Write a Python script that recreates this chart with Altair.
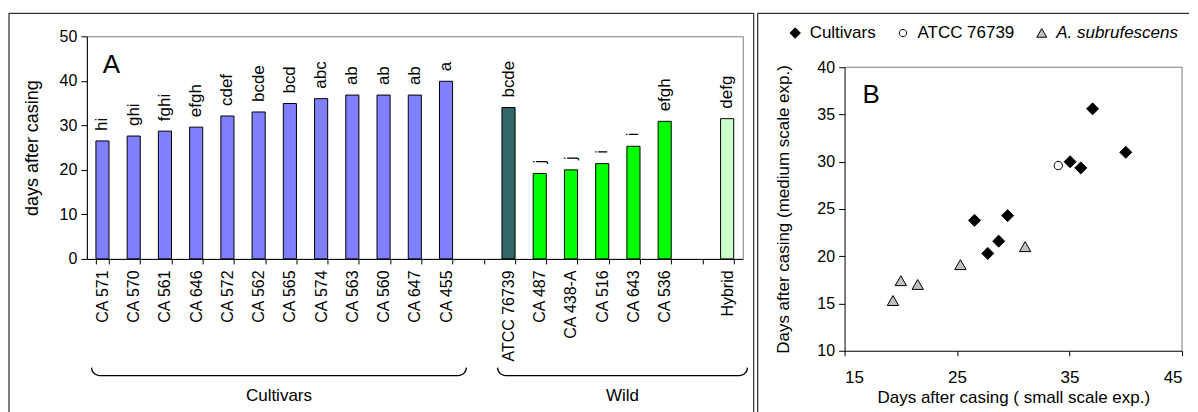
import altair as alt
import pandas as pd
import numpy as np

FONT = "Liberation Sans"

# ---------------- Panel A data ----------------
strains = ["CA 571", "CA 570", "CA 561", "CA 646", "CA 572", "CA 562", "CA 565", "CA 574",
           "CA 563", "CA 560", "CA 647", "CA 455",
           "ATCC 76739", "CA 487", "CA 438-A", "CA 516", "CA 643", "CA 536", "Hybrid"]
days = [26.5, 27.6, 28.7, 29.6, 32.1, 33.0, 34.9, 36.0, 36.8, 36.8, 36.8, 39.9,
        34.0, 19.2, 20.0, 21.4, 25.3, 30.9, 31.5]
letters = ["hi", "ghi", "fghi", "efgh", "cdef", "bcde", "bcd", "abc", "ab", "ab", "ab", "a",
           "bcde", "j", "j", "i", "i", "efgh", "defg"]
groups = ["Cultivar"] * 12 + ["ATCC"] + ["Wild"] * 5 + ["Hybrid"]
order = strains[:12] + [" "] + strains[12:18] + ["  "] + strains[18:]

group_names = ["Cultivar", "ATCC", "Wild", "Hybrid"]
group_colors = ["#8080FF", "#336666", "#00FF00", "#CCFFCC"]

brace_names = ["Cultivars", "Wild"]
brace_first = ["CA 571", "ATCC 76739"]
brace_last = ["CA 455", "Hybrid"]

# ---------------- Panel B data ----------------
cult_small = [26.55, 27.73, 28.7, 29.5, 35.05, 36.0, 37.05, 40.0]
cult_medium = [23.8, 20.3, 21.6, 24.3, 30.0, 29.35, 35.6, 31.0]
atcc_small = [34.0]
atcc_medium = [29.6]
wild_small = [19.3, 20.0, 21.5, 25.3, 31.05]
wild_medium = [15.3, 17.4, 17.0, 19.1, 21.0]
legend_names = ["Cultivars", "ATCC 76739", "A. subrufescens"]

# ================= Panel A =================
dfa = pd.DataFrame({"strain": strains, "days": days, "letter": letters, "kind": groups})
one = pd.DataFrame({"k": [0]})

xA = alt.X("strain:N",
           scale=alt.Scale(domain=order, paddingInner=0.58, paddingOuter=0.29),
           axis=alt.Axis(title=None, labelAngle=-90, tickBand="extent", tickSize=5,
                         labelPadding=6, labelFontSize=16, labelFont=FONT, labelColor="black",
                         domainColor="black", tickColor="black", zindex=1))
yA = alt.Y("days:Q", scale=alt.Scale(domain=[0, 50], nice=False),
           axis=alt.Axis(values=[0, 10, 20, 30, 40, 50], title="days after casing", grid=False,
                         tickSize=6, labelPadding=4, labelFontSize=16, labelFont=FONT,
                         labelColor="black", titleFont=FONT, titleFontSize=18,
                         titleFontWeight="normal", titleColor="black", titlePadding=18,
                         domainColor="black", tickColor="black", zindex=1))

bars = alt.Chart(dfa).mark_bar(stroke="black", strokeWidth=1).encode(
    x=xA, y=yA,
    fill=alt.Fill("kind:N", scale=alt.Scale(domain=group_names, range=group_colors), legend=None))

labels = alt.Chart(dfa).mark_text(angle=270, align="left", baseline="middle", dx=10,
                                  fontSize=17, font=FONT, color="black").encode(
    x=xA, y=yA, text="letter:N")

letterA = alt.Chart(one).mark_text(text="A", fontSize=26, font=FONT, align="left",
                                   baseline="alphabetic", color="black").encode(
    x=alt.value(16), y=alt.value(37))

bA_left = alt.Chart(one).mark_rule(color="black", strokeWidth=1).encode(
    x=alt.value(-78), y=alt.value(-23), y2=alt.value(380))
bA_top = alt.Chart(one).mark_rule(color="black", strokeWidth=1).encode(
    x=alt.value(-78), x2=alt.value(668), y=alt.value(-23))
bA_right = alt.Chart(one).mark_rule(color="black", strokeWidth=1).encode(
    x=alt.value(668), y=alt.value(-23), y2=alt.value(380))

main = alt.layer(bars, labels, letterA, bA_left, bA_top, bA_right)

# braces under the axis (geometry computed from group extents)
y_top, ry, rx = -24.4, 1.8, 0.27
rows = []
mids = []
for name, f, l in zip(brace_names, brace_first, brace_last):
    s = order.index(f) + 0.15
    e = order.index(l) + 1.15
    k = 0
    for th in np.linspace(np.pi, 1.5 * np.pi, 9):
        rows.append({"brace": name, "k": k, "bx": s + rx + rx * np.cos(th), "by": y_top + ry * np.sin(th)})
        k += 1
    for th in np.linspace(1.5 * np.pi, 2 * np.pi, 9):
        rows.append({"brace": name, "k": k, "bx": e - rx + rx * np.cos(th), "by": y_top + ry * np.sin(th)})
        k += 1
    mids.append((s + e) / 2)
dfbrace = pd.DataFrame(rows)
dfbt = pd.DataFrame({"brace": brace_names, "mid": mids, "ly": [-30.8] * len(brace_names)})

bxs = alt.Scale(domain=[0, len(order)], nice=False, zero=False)
bys = alt.Scale(domain=[0, 50], nice=False)
brace_line = alt.Chart(dfbrace).mark_line(color="black", strokeWidth=1.3).encode(
    x=alt.X("bx:Q", scale=bxs, axis=None),
    y=alt.Y("by:Q", scale=bys, axis=None),
    detail="brace:N", order="k:Q")
brace_text = alt.Chart(dfbt).mark_text(fontSize=17, font=FONT, color="black", baseline="middle").encode(
    x=alt.X("mid:Q", scale=bxs, axis=None),
    y=alt.Y("ly:Q", scale=bys, axis=None),
    text="brace:N")
braces = alt.layer(brace_line, brace_text)

panelA = alt.layer(main, braces).resolve_scale(x="independent", y="independent").properties(
    width=657, height=223, view=alt.ViewBackground(stroke="#808080"))

# ================= Panel B =================
dfb = pd.DataFrame({
    "series": ["Cultivars"] * len(cult_small) + ["ATCC 76739"] * len(atcc_small)
              + ["A. subrufescens"] * len(wild_small),
    "small": cult_small + atcc_small + wild_small,
    "medium": cult_medium + atcc_medium + wild_medium,
})

xB = alt.X("small:Q", scale=alt.Scale(domain=[15, 45], nice=False, zero=False),
           axis=alt.Axis(values=[15, 25, 35, 45], title="Days after casing ( small scale exp.)",
                         grid=False, tickSize=5, labelPadding=14, labelFontSize=17, labelFont=FONT,
                         labelColor="black", titleFont=FONT, titleFontSize=17,
                         titleFontWeight="normal", titleColor="black", titlePadding=4,
                         domainColor="black", tickColor="black", zindex=1))
yB = alt.Y("medium:Q", scale=alt.Scale(domain=[10, 40], range=[315, 31], nice=False, zero=False),
           axis=alt.Axis(values=[10, 15, 20, 25, 30, 35, 40],
                         title="Days after casing (medium scale exp.)", grid=False, tickSize=6,
                         labelPadding=4, labelFontSize=16, labelFont=FONT, labelColor="black",
                         titleFont=FONT, titleFontSize=17, titleFontWeight="normal",
                         titleColor="black", titlePadding=24, domainColor="black",
                         tickColor="black", zindex=1))

leg = alt.Legend(title=None, orient="none", legendX=-58, legendY=-12, direction="horizontal",
                 labelFontSize=17, labelFont=FONT, labelColor="black", labelLimit=300,
                 symbolStrokeWidth=1, symbolSize=110, columnPadding=18,
                 labelOffset=6, padding=0,
                 labelFontStyle={"expr": "datum.label == 'A. subrufescens' ? 'italic' : 'normal'"})

circle_path = "M0.7,0A0.7,0.7 0 1,1 -0.7,0A0.7,0.7 0 1,1 0.7,0Z"
triangle_path = "M0,-0.85L0.95,0.8L-0.95,0.8Z"

points = alt.Chart(dfb).mark_point(filled=True, strokeWidth=1, opacity=1, size=144).encode(
    x=xB, y=yB,
    shape=alt.Shape("series:N", scale=alt.Scale(domain=legend_names,
                                                range=["diamond", circle_path, triangle_path]), legend=leg),
    fill=alt.Fill("series:N", scale=alt.Scale(domain=legend_names,
                                              range=["black", "white", "#C0C0C0"]), legend=leg),
    stroke=alt.Stroke("series:N", scale=alt.Scale(domain=legend_names,
                                                  range=["black", "black", "black"]), legend=leg),
)

frame_top = alt.Chart(one).mark_rule(color="#808080", strokeWidth=1).encode(
    x=alt.datum(15), x2=alt.datum(45), y=alt.datum(40))
frame_right = alt.Chart(one).mark_rule(color="#808080", strokeWidth=1).encode(
    x=alt.datum(45), y=alt.datum(10), y2=alt.datum(40))

letterB = alt.Chart(one).mark_text(text="B", fontSize=26, font=FONT, align="left",
                                   baseline="alphabetic", color="black").encode(
    x=alt.value(18), y=alt.value(67))

bB_left = alt.Chart(one).mark_rule(color="black", strokeWidth=1).encode(
    x=alt.value(-87), y=alt.value(-23), y2=alt.value(380))
bB_top = alt.Chart(one).mark_rule(color="black", strokeWidth=1).encode(
    x=alt.value(-87), x2=alt.value(345), y=alt.value(-23))

panelB = alt.layer(frame_top, frame_right, points, letterB, bB_left, bB_top).properties(
    width=338, height=315, view=alt.ViewBackground(stroke="transparent"))

chart = alt.hconcat(panelA, panelB, spacing=2).resolve_scale(
    fill="independent", shape="independent", stroke="independent"
).resolve_legend(
    fill="independent", shape="independent", stroke="independent"
).properties(
    padding={"left": 0, "top": 4, "right": 0, "bottom": 0}
).configure(font=FONT)

chart.save("out.html", embed_options={"renderer": "svg", "actions": False})
